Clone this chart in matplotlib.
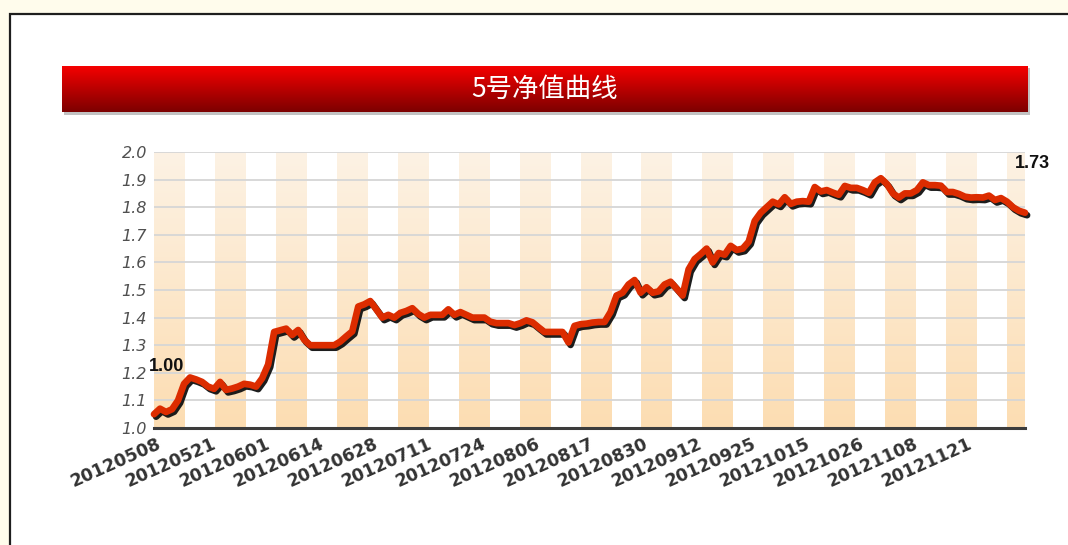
import numpy as np
import matplotlib
matplotlib.use('Agg')
import matplotlib.pyplot as plt
from matplotlib import patheffects as pe
from matplotlib.patches import Rectangle
import matplotlib.transforms as mtransforms

# ---------------- data ----------------
title = '5号净值曲线'
tick_labels = ['20120508', '20120521', '20120601', '20120614', '20120628',
               '20120711', '20120724', '20120806', '20120817', '20120830',
               '20120912', '20120925', '20121015', '20121026', '20121108',
               '20121121']
nav = [1.05, 1.07, 1.058, 1.068, 1.10, 1.16, 1.183, 1.176, 1.167, 1.15,
       1.142, 1.167, 1.138, 1.143, 1.15, 1.16, 1.157, 1.15, 1.18, 1.23,
       1.348, 1.354, 1.36, 1.337, 1.355, 1.32, 1.30, 1.30, 1.30, 1.30,
       1.30, 1.313, 1.332, 1.35, 1.44, 1.448, 1.46, 1.43, 1.40, 1.41,
       1.40, 1.417, 1.424, 1.434, 1.413, 1.40, 1.41, 1.41, 1.41, 1.43,
       1.41, 1.42, 1.41, 1.40, 1.40, 1.40, 1.385, 1.38, 1.38, 1.38,
       1.373, 1.38, 1.39, 1.383, 1.365, 1.348, 1.348, 1.348, 1.348, 1.31,
       1.37, 1.376, 1.378, 1.382, 1.384, 1.384, 1.42, 1.48, 1.49, 1.52,
       1.536, 1.49, 1.51, 1.49, 1.495, 1.52, 1.53, 1.505, 1.48, 1.575,
       1.612, 1.63, 1.65, 1.60, 1.634, 1.628, 1.66, 1.645, 1.65, 1.675,
       1.75, 1.78, 1.80, 1.82, 1.81, 1.836, 1.812, 1.82, 1.822, 1.82,
       1.873, 1.857, 1.862, 1.853, 1.845, 1.877, 1.87, 1.87, 1.862, 1.852,
       1.89, 1.905, 1.884, 1.85, 1.835, 1.85, 1.85, 1.862, 1.89, 1.88,
       1.88, 1.878, 1.855, 1.855, 1.848, 1.838, 1.835, 1.836, 1.835, 1.842,
       1.826, 1.833, 1.82, 1.80, 1.787, 1.78]
start_label = '1.00'
end_label = '1.73'
y_ticks = [1.0, 1.1, 1.2, 1.3, 1.4, 1.5, 1.6, 1.7, 1.8, 1.9, 2.0]

# ---------------- figure ----------------
W, H = 1068, 545
fig = plt.figure(figsize=(W / 100, H / 100), dpi=100, facecolor='#FFFCEC')

# white frame with dark border (left & top visible)
fig.patches.append(Rectangle((10 / W, -0.05), 1.2, 1.05 - 14 / H,
                             transform=fig.transFigure, facecolor='white',
                             edgecolor='#1e1e1e', lw=1.6, zorder=-10))

# title bar shadow
fig.patches.append(Rectangle((64 / W, 1 - 115 / H), (1030 - 64) / W, 47 / H,
                             transform=fig.transFigure, facecolor='#9a9a9a',
                             edgecolor='none', alpha=0.6, zorder=-5))
# title bar with gradient
tax = fig.add_axes([62 / W, 1 - 112 / H, (1028 - 62) / W, 46 / H])
tax.set_axis_off()
top_c = np.array([245, 0, 0]) / 255.0
bot_c = np.array([125, 0, 0]) / 255.0
t = np.linspace(0, 1, 100)[:, None]
grad = (top_c[None, :] * (1 - t) + bot_c[None, :] * t)[:, None, :]
tax.imshow(grad, aspect='auto', extent=(0, 1, 0, 1), origin='upper')
tax.set_xlim(0, 1)
tax.set_ylim(0, 1)
tax.text(0.5, 0.5, title, color='white', fontsize=19, ha='center', va='center',
         family=['Noto Sans CJK SC', 'DejaVu Sans'])

# ---------------- main axes ----------------
ax = fig.add_axes([154 / W, 1 - 428 / H, 871 / W, 276 / H])
ax.set_facecolor('white')
x = np.arange(len(nav))

# alternating vertical bands (gradient)
band_top = np.array([253, 242, 228]) / 255.0
band_bot = np.array([252, 221, 178]) / 255.0
bgrad = (band_top[None, :] * (1 - t) + band_bot[None, :] * t)[:, None, :]
period = 60.93 / 871.0
k = 0
while k * period < 1.0:
    x0 = k * period
    x1 = min(x0 + period / 2, 1.0)
    ax.imshow(bgrad, aspect='auto', extent=(x0, x1, 0, 1), origin='upper',
              transform=ax.transAxes, zorder=0)
    k += 1

# grid
ax.set_yticks(y_ticks)
ax.set_yticklabels([f'{v:.1f}' for v in y_ticks])
ax.yaxis.grid(True, color='#D6D6D6', lw=1.3)
ax.set_axisbelow(True)

for s in ['left', 'right', 'top']:
    ax.spines[s].set_visible(False)
ax.spines['bottom'].set_color('#3c3c3c')
ax.spines['bottom'].set_linewidth(2.2)
ax.spines['bottom'].set_zorder(4)

ax.tick_params(axis='both', length=0)
ax.tick_params(axis='y', pad=5)
for lab in ax.get_yticklabels():
    lab.set_fontstyle('italic')
    lab.set_fontsize(11.5)
    lab.set_color('#505050')
    lab.set_family('DejaVu Sans')

ax.set_xticks(np.arange(len(tick_labels)) * 9)
ax.set_xticklabels(tick_labels)
ax.tick_params(axis='x', pad=5)
offset = mtransforms.ScaledTranslation(3 / 100, 0, fig.dpi_scale_trans)
for lab in ax.get_xticklabels():
    lab.set_rotation(24)
    lab.set_ha('right')
    lab.set_va('top')
    lab.set_rotation_mode('anchor')
    lab.set_fontweight('bold')
    lab.set_fontsize(12.5)
    lab.set_color('#333333')
    lab.set_family('DejaVu Sans')
    lab.set_transform(lab.get_transform() + offset)

# line with shadow
ax.plot(x, nav, color='#DC2C00', lw=4.8, solid_joinstyle='round',
        solid_capstyle='round', zorder=3, clip_on=False,
        path_effects=[pe.SimpleLineShadow(offset=(1.5, -1.8),
                                          shadow_color='#111111', alpha=0.95),
                      pe.Normal()])

ax.annotate(start_label, xy=(x[0], nav[0]), xytext=(-5, 48),
            textcoords='offset pixels', ha='left', va='center',
            fontsize=13, fontweight='bold', family='Liberation Sans',
            color='#111111', annotation_clip=False, zorder=5)
ax.annotate(end_label, xy=(x[-1], nav[-1]), xytext=(-10, 49),
            textcoords='offset pixels', ha='left', va='center',
            fontsize=13, fontweight='bold', family='Liberation Sans',
            color='#111111', annotation_clip=False, zorder=5)

ax.set_xlim(0, len(nav) - 1)
ax.set_ylim(1.0, 2.0)

fig.savefig('out.png', dpi=100, facecolor=fig.get_facecolor())
